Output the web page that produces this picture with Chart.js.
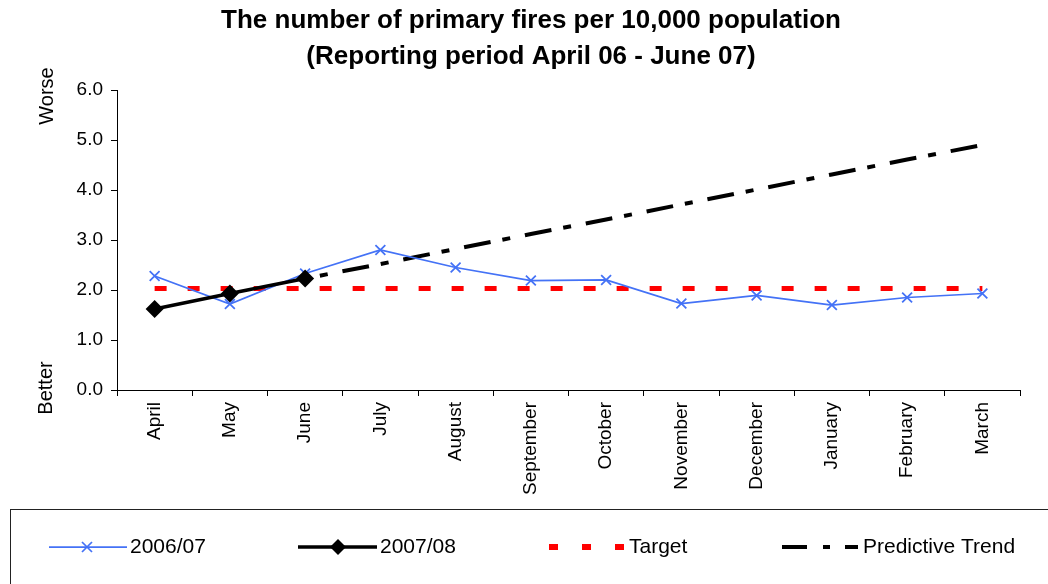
<!DOCTYPE html>
<html lang="en">
<head>
    <meta charset="UTF-8">
    <title>Primary fires per 10,000 population</title>
    <style>
        body { margin: 0; background: #fff; }
    </style>
</head>
<body>

<canvas id="myChart" width="1048" height="584"></canvas>

<script src="https://cdn.jsdelivr.net/npm/chart.js"></script>

<script>
    const months = ['April', 'May', 'June', 'July', 'August', 'September', 'October', 'November', 'December', 'January', 'February', 'March']
    const fires0607 = [2.28, 1.72, 2.33, 2.80, 2.45, 2.19, 2.20, 1.73, 1.89, 1.70, 1.85, 1.93]
    const fires0708 = [1.62, 1.93, 2.23, null, null, null, null, null, null, null, null, null]
    const target = [2.03, 2.03, 2.03, 2.03, 2.03, 2.03, 2.03, 2.03, 2.03, 2.03, 2.03, 2.03]
    const trend = [null, null, 2.23, 2.52, 2.82, 3.12, 3.41, 3.71, 4.01, 4.31, 4.61, 4.90]
    const yTicks = [0, 1, 2, 3, 4, 5, 6]

    const font = "'Liberation Sans', Arial, sans-serif"
    const blue = '#4472f6'

    // Worse / Better notes beside the y axis
    const sideNotes = {
        id: 'sideNotes',
        afterDraw(chart) {
            const c = chart.ctx
            const notes = [['Worse', 47, 96], ['Better', 46, 388]]
            notes.forEach(([txt, x, y]) => {
                c.save()
                c.fillStyle = '#000'
                c.font = '20px ' + font
                c.textAlign = 'center'
                c.textBaseline = 'middle'
                c.translate(x, y)
                c.rotate(-Math.PI / 2)
                c.fillText(txt, 0, 0)
                c.restore()
            })
        }
    }

    // legend box at the bottom, drawn like the spreadsheet one
    const boxLegend = {
        id: 'boxLegend',
        afterDraw(chart) {
            const c = chart.ctx
            const y = 547
            c.save()
            c.strokeStyle = '#222'
            c.lineWidth = 1
            c.strokeRect(10.5, 509.5, 1060, 100)

            c.font = '21px ' + font
            c.fillStyle = '#000'
            c.textBaseline = 'middle'

            // 2006/07
            c.strokeStyle = blue
            c.lineWidth = 1.75
            c.beginPath(); c.moveTo(49, y); c.lineTo(127, y); c.stroke()
            c.beginPath()
            c.moveTo(82, y - 5); c.lineTo(92, y + 5)
            c.moveTo(92, y - 5); c.lineTo(82, y + 5)
            c.stroke()
            c.fillText(chart.data.datasets[1].label, 130, y)

            // 2007/08
            c.strokeStyle = '#000'
            c.lineWidth = 3.5
            c.beginPath(); c.moveTo(298, y); c.lineTo(377, y); c.stroke()
            c.beginPath()
            c.moveTo(338, y - 8); c.lineTo(346, y); c.lineTo(338, y + 8); c.lineTo(330, y)
            c.closePath(); c.fill()
            c.fillText(chart.data.datasets[0].label, 380, y)

            // Target
            c.fillStyle = '#ff0000'
            ;[549, 582, 615].forEach(x => c.fillRect(x, y - 3, 9, 6))
            c.fillStyle = '#000'
            c.fillText(chart.data.datasets[2].label, 629, y)

            // Predictive Trend
            c.lineWidth = 4
            c.beginPath(); c.moveTo(782, y); c.lineTo(807, y); c.stroke()
            c.beginPath(); c.moveTo(823, y); c.lineTo(830, y); c.stroke()
            c.beginPath(); c.moveTo(845, y); c.lineTo(858, y); c.stroke()
            c.fillText(chart.data.datasets[3].label, 863, y)
            c.restore()
        }
    }

    new Chart(document.getElementById('myChart'), {
        type: 'line',
        data: {
            labels: months,
            datasets: [{
                label: '2007/08',
                data: fires0708,
                order: 0,
                borderColor: '#000',
                backgroundColor: '#000',
                borderWidth: 3.5,
                pointStyle: 'rectRot',
                pointRadius: 9,
                pointBorderWidth: 0,
                pointBackgroundColor: '#000'
            }, {
                label: '2006/07',
                data: fires0607,
                order: 1,
                borderColor: blue,
                borderWidth: 1.75,
                pointStyle: 'crossRot',
                pointRadius: 7,
                pointBorderWidth: 1.75,
                pointBorderColor: blue
            }, {
                label: 'Target',
                data: target,
                order: 2,
                borderColor: '#ff0000',
                borderWidth: 5,
                borderDash: [12, 21],
                pointRadius: 0
            }, {
                label: 'Predictive Trend',
                data: trend,
                order: 3,
                borderColor: '#000',
                borderWidth: 4,
                borderDash: [27, 12, 8, 15],
                borderDashOffset: 24,
                pointRadius: 0
            }]
        },
        options: {
            responsive: false,
            animation: false,
            layout: {
                padding: { left: 42, right: 28, top: 0, bottom: 84 }
            },
            plugins: {
                legend: { display: false },
                tooltip: { enabled: false },
                title: {
                    display: true,
                    text: ['The number of primary fires per 10,000 population', '(Reporting period April 06 - June 07)'],
                    color: '#000',
                    font: { family: font, size: 26, weight: 'bold', lineHeight: 36 / 26 },
                    padding: { top: 3, bottom: 15 }
                }
            },
            scales: {
                x: {
                    offset: true,
                    afterFit: (scale) => { scale.height = 110 },
                    grid: {
                        offset: true,
                        drawOnChartArea: false,
                        drawTicks: true,
                        tickLength: 6,
                        color: '#000'
                    },
                    border: { color: '#000', width: 1 },
                    ticks: {
                        color: '#000',
                        minRotation: 90,
                        maxRotation: 90,
                        autoSkip: false,
                        padding: 6,
                        font: { family: font, size: 19 }
                    }
                },
                y: {
                    min: 0,
                    max: 6,
                    afterFit: (scale) => { scale.width = 75 },
                    afterBuildTicks: (scale) => { scale.ticks = yTicks.map(v => ({ value: v })) },
                    grid: {
                        drawOnChartArea: false,
                        drawTicks: true,
                        tickLength: 6,
                        color: '#000'
                    },
                    border: { color: '#000', width: 1 },
                    ticks: {
                        color: '#000',
                        padding: 8,
                        font: { family: font, size: 19 },
                        callback: (v) => Number(v).toFixed(1)
                    }
                }
            }
        },
        plugins: [sideNotes, boxLegend]
    });
</script>
</body>
</html>
